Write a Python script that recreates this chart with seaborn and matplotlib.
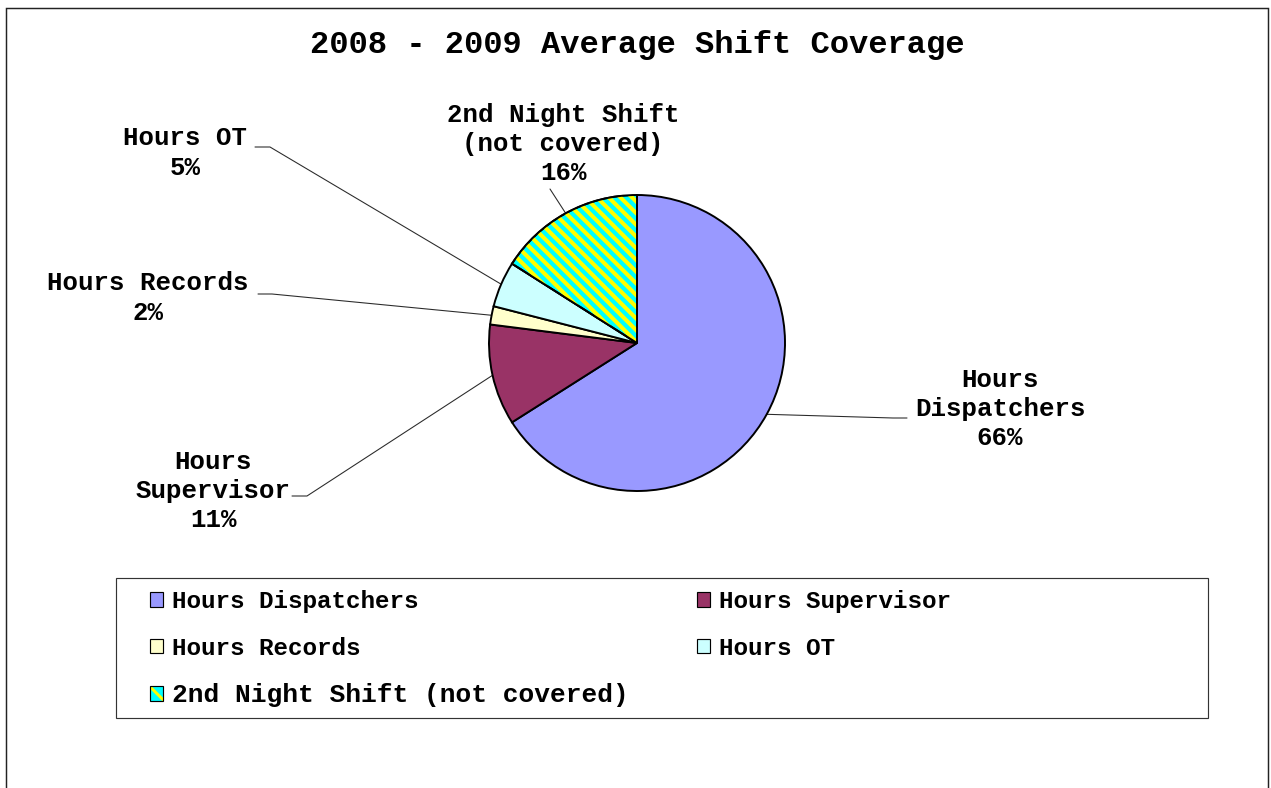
# Pie chart: 2008 - 2009 average shift coverage
import numpy as np
import matplotlib
matplotlib.use("Agg")
import matplotlib.pyplot as plt
from matplotlib.patches import Rectangle, Patch, Wedge
import seaborn as sns

# data
categories = ["Hours Dispatchers", "Hours Supervisor", "Hours Records",
              "Hours OT", "2nd Night Shift (not covered)"]
pie_labels = ["Hours\nDispatchers\n66%", "Hours\nSupervisor\n11%", "Hours Records\n2%",
              "Hours OT\n5%", "2nd Night Shift\n(not covered)\n16%"]
shares = [66, 11, 2, 5, 16]
colors = ["#9999FF", "#993366", "#FFFFCC", "#CCFFFF", "#00FFFF"]
stripe_color = "#FFFF00"

sns.set_theme(style="white")
plt.rcParams["font.family"] = ["Liberation Mono", "DejaVu Sans"]
plt.rcParams["font.weight"] = "bold"
plt.rcParams["text.color"] = "black"
plt.rcParams["hatch.linewidth"] = 3

W, H, DPI = 1271, 788, 70
fig = plt.figure(figsize=(W / DPI, H / DPI), dpi=DPI)
fig.patch.set_facecolor("white")

# outer frame (open at the bottom)
fig.add_artist(Rectangle((6 / W, -0.1), 1262 / W, 1.1 - 8 / H, transform=fig.transFigure,
                         fill=False, edgecolor="#222222", lw=1.5))

# pie axes, centre (637, 343) px, radius 148 px
cx, cy, R = 637, 343, 148
ax = fig.add_axes([(cx - R) / W, (H - cy - R) / H, 2 * R / W, 2 * R / H])
wedges, _ = ax.pie(shares, colors=colors, startangle=90, counterclock=False,
                   wedgeprops=dict(edgecolor="black", linewidth=2))
ax.set_xlim(-1, 1)
ax.set_ylim(-1, 1)

# striped slice: yellow diagonal stripes clipped to the cyan wedge
w = wedges[4]
step = 11.7 / R
xx = np.array([-1.2, 0.2])
for c in np.arange(-1.5, 2.5, step):
    ln, = ax.plot(xx, -xx + c, color=stripe_color, lw=4.2, solid_capstyle="butt",
                  zorder=w.get_zorder() + 0.5)
    ln.set_clip_path(w)
ax.add_patch(Wedge(w.center, w.r, w.theta1, w.theta2, facecolor="none",
                   edgecolor="black", lw=2, zorder=w.get_zorder() + 1))
ax.set_xlim(-1, 1)
ax.set_ylim(-1, 1)


def to_data(px, py):
    return (px - cx) / R, (cy - py) / R


# label centres and leader-line anchors (pixels)
label_pos = [(1000, 409), (213, 491), (148, 298), (185, 153), (563, 144)]
line_anchor = [[(907, 418), (893, 418)], [(292, 496), (307, 496)],
               [(258, 294), (272, 294)], [(255, 147), (270, 147)], [(550, 189)]]

for wd, lab, pos, anc in zip(wedges, pie_labels, label_pos, line_anchor):
    mid = np.deg2rad((wd.theta1 + wd.theta2) / 2)
    pts = [to_data(*p) for p in anc] + [(np.cos(mid), np.sin(mid))]
    xs, ys = zip(*pts)
    ax.plot(xs, ys, color="#2a2a2a", lw=1.1, clip_on=False, zorder=0)
    tx, ty = to_data(*pos)
    ax.text(tx, ty, lab, ha="center", va="center", fontsize=26.5,
            linespacing=1.28, clip_on=False)

# title
fig.text(637 / W, 1 - 45 / H, "2008 - 2009 Average Shift Coverage",
         ha="center", va="center", fontsize=33, fontweight="bold")

# legend box
fig.add_artist(Rectangle((116 / W, 1 - 718 / H), (1208 - 116) / W, 140 / H,
                         transform=fig.transFigure, fill=False,
                         edgecolor="#333333", lw=1.2))
handles = []
for i, c in enumerate(colors):
    if i == 4:
        handles.append((Patch(facecolor=c, edgecolor=stripe_color, hatch="\\", lw=0),
                        Patch(facecolor="none", edgecolor="black", lw=1.2)))
    else:
        handles.append(Patch(facecolor=c, edgecolor="black", lw=1.2))
order = [0, 2, 4, 1, 3]
leg = fig.legend([handles[i] for i in order], [categories[i] for i in order],
                 ncol=2, loc="upper left", bbox_to_anchor=(150 / W, 1 - 590 / H),
                 frameon=False, fontsize=25, borderpad=0, borderaxespad=0,
                 handlelength=0.55, handleheight=0.55, handletextpad=0.35,
                 columnspacing=2.8, labelspacing=0.97)
leg.get_texts()[2].set_fontsize(27)

fig.savefig("out.png", dpi=DPI, facecolor="white")
